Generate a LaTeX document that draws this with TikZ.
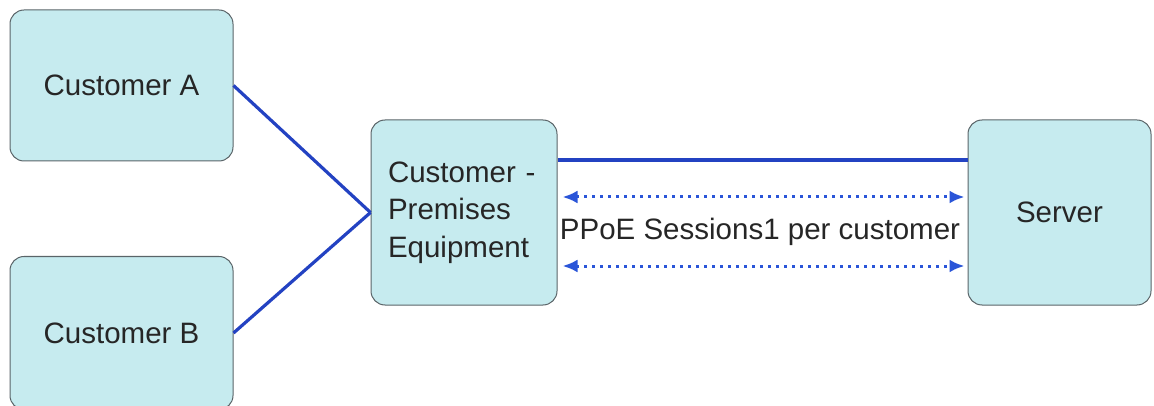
\documentclass[tikz,border=0pt]{standalone}
\usepackage{fontspec}
\setmainfont{Liberation Sans}
\usetikzlibrary{arrows.meta}
\definecolor{boxfill}{HTML}{C6EBEF}
\definecolor{boxdraw}{HTML}{5A6468}
\definecolor{linkblue}{HTML}{2342C2}
\definecolor{sessblue}{HTML}{2A55D8}
\begin{document}
\begin{tikzpicture}[x=1pt,y=-1pt,
  box/.style={draw=boxdraw,fill=boxfill,line width=1pt,rounded corners=14pt,
    inner sep=0pt,font=\fontsize{29.5}{37.5}\selectfont,text=black!85},
  link/.style={draw=linkblue,line width=3.2pt},
  sess/.style={draw=sessblue,line width=3pt,dash pattern=on 3pt off 5pt,
    {Latex[length=15pt,width=13pt]}-{Latex[length=15pt,width=13pt]}}]
\useasboundingbox (0,0) rectangle (1154,406);
\node[box,minimum width=223pt,minimum height=151pt] (ca) at (121.5,85.5) {Customer A};
\node[box,minimum width=223pt,minimum height=153pt] (cb) at (121.5,333) {Customer B};
\node[box,minimum width=186pt,minimum height=185pt,text width=152pt,align=left] (cpe) at (464,212.5) {Customer -\\Premises\\Equipment};
\node[box,minimum width=183pt,minimum height=185pt] (srv) at (1059.5,212.5) {Server};
\draw[link] (ca.east) -- (cpe.west);
\draw[link] (cb.east) -- (cpe.west);
\draw[link] ([yshift=52.5pt]cpe.east) -- ([yshift=52.5pt]srv.west);
\draw[sess,shorten <=5pt,shorten >=3pt] ([yshift=15.5pt]cpe.east) -- ([yshift=15.5pt]srv.west);
\draw[sess,shorten <=5pt,shorten >=3pt] ([yshift=-53.5pt]cpe.east) -- ([yshift=-53.5pt]srv.west);
\node[font=\fontsize{29.5}{35}\selectfont,text=black!85,inner sep=0pt] (lbl) at (760,232) {PPoE Sessions1 per customer};
\end{tikzpicture}
\end{document}
